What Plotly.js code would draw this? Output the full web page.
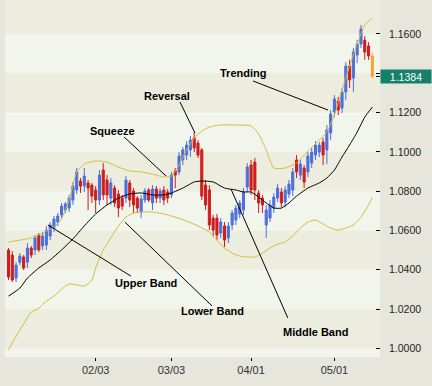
<!DOCTYPE html>
<html><head><meta charset="utf-8">
<script src="https://cdn.plot.ly/plotly-3.0.1.min.js"></script>
<style>html,body{margin:0;padding:0;background:#e6e6dd;}#chart{width:432px;height:386px;}</style>
</head><body><div id="chart"></div>
<script>
// Daily bars (trading-day index 0..96)
const openP = [
1.0501,1.0475,1.0358,1.0439,1.0465,1.0439,1.0511,1.0501,1.0577,1.0521,
1.0526,1.0572,1.0612,1.0643,1.0679,1.0704,1.0714,1.0755,1.0806,1.0852,
1.0826,1.0842,1.0831,1.0806,1.0755,1.0908,1.0857,1.0765,1.0816,1.0786,
1.0765,1.0765,1.0842,1.0801,1.0765,1.0694,1.0755,1.0806,1.0740,1.0811,
1.0765,1.0806,1.0796,1.0781,1.0903,1.0898,1.0959,1.0984,1.1010,1.1071,
1.1045,1.1010,1.0831,1.0806,1.0663,1.0663,1.0587,1.0623,1.0562,1.0628,
1.0653,1.0684,1.0704,1.0821,1.0933,1.0948,1.0791,1.0765,1.0628,1.0663,
1.0714,1.0765,1.0796,1.0745,1.0786,1.0806,1.0959,1.0882,1.0918,1.0898,
1.0943,1.0984,1.0999,1.1050,1.1010,1.1096,1.1203,1.1259,1.1223,1.1305,
1.1437,1.1376,1.1493,1.1549,1.1569,1.1539,1.1488];
const highP = [
1.0511,1.0495,1.0439,1.0485,1.0475,1.0536,1.0521,1.0577,1.0587,1.0592,
1.0623,1.0643,1.0674,1.0689,1.0740,1.0745,1.0781,1.0847,1.0918,1.0867,
1.0918,1.0857,1.0842,1.0826,1.0908,1.0943,1.0882,1.0867,1.0831,1.0806,
1.0781,1.0877,1.0857,1.0816,1.0775,1.0781,1.0816,1.0816,1.0831,1.0826,
1.0816,1.0826,1.0811,1.0898,1.0918,1.0999,1.1025,1.1055,1.1081,1.1101,
1.1060,1.1020,1.0857,1.0831,1.0679,1.0684,1.0663,1.0643,1.0643,1.0704,
1.0730,1.0755,1.0816,1.0943,1.0959,1.0969,1.0806,1.0781,1.0730,1.0755,
1.0791,1.0836,1.0816,1.0826,1.0857,1.0918,1.0984,1.0959,1.0933,1.0999,
1.1020,1.1055,1.1050,1.1071,1.1137,1.1213,1.1289,1.1279,1.1325,1.1457,
1.1468,1.1529,1.1569,1.1646,1.1590,1.1559,1.1503];
const lowP = [
1.0348,1.0338,1.0338,1.0424,1.0399,1.0409,1.0460,1.0475,1.0490,1.0501,
1.0501,1.0551,1.0592,1.0623,1.0663,1.0689,1.0694,1.0730,1.0786,1.0791,
1.0796,1.0704,1.0740,1.0689,1.0730,1.0755,1.0730,1.0730,1.0719,1.0668,
1.0704,1.0740,1.0719,1.0689,1.0689,1.0663,1.0740,1.0745,1.0704,1.0740,
1.0740,1.0730,1.0740,1.0765,1.0816,1.0882,1.0933,1.0959,1.0974,1.0999,
1.0969,1.0755,1.0704,1.0602,1.0572,1.0551,1.0562,1.0516,1.0536,1.0602,
1.0628,1.0663,1.0679,1.0796,1.0781,1.0755,1.0689,1.0689,1.0562,1.0643,
1.0689,1.0745,1.0719,1.0719,1.0765,1.0775,1.0867,1.0857,1.0816,1.0872,
1.0918,1.0959,1.0974,1.0933,1.0938,1.1060,1.1177,1.1188,1.1198,1.1264,
1.1325,1.1305,1.1452,1.1529,1.1468,1.1468,1.1376];
const closeP = [
1.0363,1.0348,1.0424,1.0470,1.0409,1.0511,1.0475,1.0562,1.0501,1.0572,
1.0602,1.0628,1.0658,1.0674,1.0724,1.0735,1.0765,1.0826,1.0898,1.0826,
1.0877,1.0816,1.0775,1.0755,1.0882,1.0781,1.0781,1.0842,1.0740,1.0714,
1.0724,1.0857,1.0755,1.0730,1.0714,1.0760,1.0801,1.0755,1.0811,1.0765,
1.0801,1.0755,1.0765,1.0882,1.0882,1.0979,1.1010,1.1035,1.1060,1.1020,
1.0984,1.0775,1.0730,1.0628,1.0602,1.0577,1.0643,1.0551,1.0623,1.0689,
1.0714,1.0740,1.0796,1.0923,1.0806,1.0806,1.0740,1.0730,1.0704,1.0730,
1.0770,1.0816,1.0740,1.0806,1.0836,1.0898,1.0898,1.0938,1.0847,1.0979,
1.0999,1.1035,1.1035,1.0984,1.1111,1.1193,1.1269,1.1213,1.1305,1.1437,
1.1366,1.1508,1.1549,1.1625,1.1508,1.1488,1.1384];

// Bollinger bands (read at selected bars)
const upperIdx = [0,3,6,9,12,14,16,17,18,20,23,26,29,32,35,38,41,43,45,47,49,51,53,56,60,64,66,68,70,73,76,79,82,84,86,88,90,92,94,96];
const upperVal = [1.0541,1.0551,1.0562,1.0587,1.0618,1.0658,1.0755,1.0831,1.0898,1.0938,1.0954,1.0948,1.0923,1.0903,1.0898,1.0887,1.0872,1.0877,1.0933,1.1010,1.1071,1.1106,1.1127,1.1137,1.1137,1.1132,1.1091,1.1010,1.0918,1.0918,1.0943,1.1004,1.1060,1.1101,1.1188,1.1315,1.1437,1.1549,1.1646,1.1681];
const middleIdx = [0,3,5,8,11,14,17,20,23,26,29,32,35,38,41,43,46,49,51,54,57,60,62,64,66,68,70,72,74,76,79,82,84,86,88,90,92,94,96];
const middleVal = [1.0266,1.0307,1.0358,1.0409,1.0450,1.0501,1.0557,1.0623,1.0684,1.0730,1.0765,1.0786,1.0791,1.0781,1.0781,1.0791,1.0816,1.0847,1.0852,1.0847,1.0816,1.0806,1.0796,1.0796,1.0770,1.0740,1.0714,1.0714,1.0740,1.0775,1.0816,1.0842,1.0867,1.0908,1.0974,1.1035,1.1101,1.1177,1.1228];
const lowerIdx = [0,2,4,6,8,10,12,14,16,18,20,22,23,25,27,29,31,33,35,38,41,44,47,50,53,55,57,59,61,63,65,67,69,71,73,75,77,79,81,83,85,87,89,91,93,95,96];
const lowerVal = [0.9992,1.0063,1.0124,1.0185,1.0205,1.0241,1.0266,1.0302,1.0328,1.0323,1.0317,1.0348,1.0409,1.0501,1.0562,1.0623,1.0668,1.0689,1.0694,1.0694,1.0684,1.0668,1.0648,1.0623,1.0592,1.0551,1.0511,1.0485,1.0470,1.0465,1.0465,1.0485,1.0511,1.0531,1.0541,1.0572,1.0612,1.0643,1.0653,1.0633,1.0612,1.0602,1.0612,1.0628,1.0668,1.0730,1.0770];

// Axis ticks
const xTickIdx = [23,43,64,86];
const xTickLabels = ['02/03','03/03','04/01','05/01'];
const yTickVals = [1.00,1.02,1.04,1.06,1.08,1.10,1.12,1.14,1.16];
const yHiddenLabel = 1.14; // covered by the last-price box
const lastPriceLabel = '1.1384';

// Callouts: label, label position, pointer from -> to
const calloutText = ['Trending','Reversal','Squeeze','Upper Band','Lower Band','Middle Band'];
const calloutX = [62.0,41.8,27.4,36.4,53.7,81.1];
const calloutY = [1.1404,1.1284,1.1106,1.0335,1.0190,1.0083];
const ptrX0 = [64.5,45.25,30.5,10.4,30.7,58.7];
const ptrY0 = [1.1361,1.1254,1.1076,1.0628,1.0643,1.0811];
const ptrX1 = [84.3,49.2,41.6,32.3,53.7,73.7];
const ptrY1 = [1.1213,1.1096,1.0877,1.0368,1.0216,1.0155];

const n = closeP.length, last = n - 1;
const idx = closeP.map((_, i) => i);
const BLUE = '#4d6fdb', RED = '#d01c1c', ORANGE = '#f2a531';

const traces = [
  {type:'candlestick', x: idx.slice(0,last), open: openP.slice(0,last), high: highP.slice(0,last),
   low: lowP.slice(0,last), close: closeP.slice(0,last), whiskerwidth:0, hoverinfo:'skip',
   increasing:{line:{color:BLUE,width:1}, fillcolor:BLUE},
   decreasing:{line:{color:RED,width:1}, fillcolor:RED}},
  {type:'candlestick', x:[last], open:[openP[last]], high:[highP[last]], low:[lowP[last]], close:[closeP[last]],
   whiskerwidth:0, hoverinfo:'skip',
   increasing:{line:{color:ORANGE,width:1}, fillcolor:ORANGE},
   decreasing:{line:{color:ORANGE,width:1}, fillcolor:ORANGE}},
  {type:'scatter', mode:'lines', x: upperIdx, y: upperVal, line:{color:'#d2bd3e', width:1, shape:'spline', smoothing:0.5}},
  {type:'scatter', mode:'lines', x: lowerIdx, y: lowerVal, line:{color:'#d2bd3e', width:1, shape:'spline', smoothing:0.5}},
  {type:'scatter', mode:'lines', x: middleIdx, y: middleVal, line:{color:'#000000', width:1, shape:'spline', smoothing:0.5}}
];

const shapes = [];
// alternating background bands (darker every other 0.02 step)
const bandEdges = yTickVals.concat([1.18]);
for (let k = 0; k < bandEdges.length - 1; k += 2) {
  shapes.push({type:'rect', xref:'paper', x0:0, x1:1, yref:'y', y0:bandEdges[k], y1:bandEdges[k+1],
    fillcolor:'#ecedde', line:{width:0}, layer:'below'});
}
for (let k = 0; k < calloutText.length; k++) {
  shapes.push({type:'line', xref:'x', yref:'y', x0:ptrX0[k], y0:ptrY0[k], x1:ptrX1[k], y1:ptrY1[k],
    line:{color:'#000', width:1}});
}

const annotations = calloutText.map((t, k) => ({
  x: calloutX[k], y: calloutY[k], xref:'x', yref:'y', text:'<b>'+t+'</b>', showarrow:false,
  xanchor:'center', yanchor:'middle',
  font:{family:'Liberation Sans, Arial, sans-serif', size:11, color:'#000'}
}));
annotations.push({x:1, xref:'paper', xanchor:'left', y: closeP[last], yref:'y', yanchor:'middle',
  text: lastPriceLabel, showarrow:false, bgcolor:'#17806a', width:48, height:11, borderpad:1, align:'center',
  font:{family:'Liberation Sans, Arial, sans-serif', size:10.5, color:'#ffffff'}});

const yTicks = yTickVals.concat([closeP[last]]);
const yTickText = yTickVals.map(v => (v === yHiddenLabel ? '' : v.toFixed(4))).concat(['']);

const layout = {
  width:432, height:386,
  margin:{l:5, r:52, t:0, b:29, pad:0},
  paper_bgcolor:'#e6e6dd', plot_bgcolor:'#f1f5ec',
  showlegend:false, hovermode:false,
  boxgap:0.45, boxgroupgap:0,
  xaxis:{range:[-0.92,98.02], autorange:false, rangeslider:{visible:false},
    tickmode:'array', tickvals:xTickIdx, ticktext:xTickLabels,
    ticks:'outside', ticklen:3, tickcolor:'#000', tickwidth:1,
    showgrid:false, zeroline:false, showline:false,
    tickfont:{family:'Liberation Sans, Arial, sans-serif', size:11, color:'#333'}},
  yaxis:{side:'right', range:[0.99562,1.1773], autorange:false,
    tickmode:'array', tickvals:yTicks, ticktext:yTickText,
    ticks:'inside', ticklen:4, tickcolor:'#000', tickwidth:1, ticklabelstandoff:8,
    showgrid:false, zeroline:false, showline:false,
    tickfont:{family:'Liberation Sans, Arial, sans-serif', size:10.5, color:'#222'}},
  shapes: shapes,
  annotations: annotations
};

Plotly.newPlot('chart', traces, layout, {staticPlot:true, displayModeBar:false});
</script>
</body></html>
